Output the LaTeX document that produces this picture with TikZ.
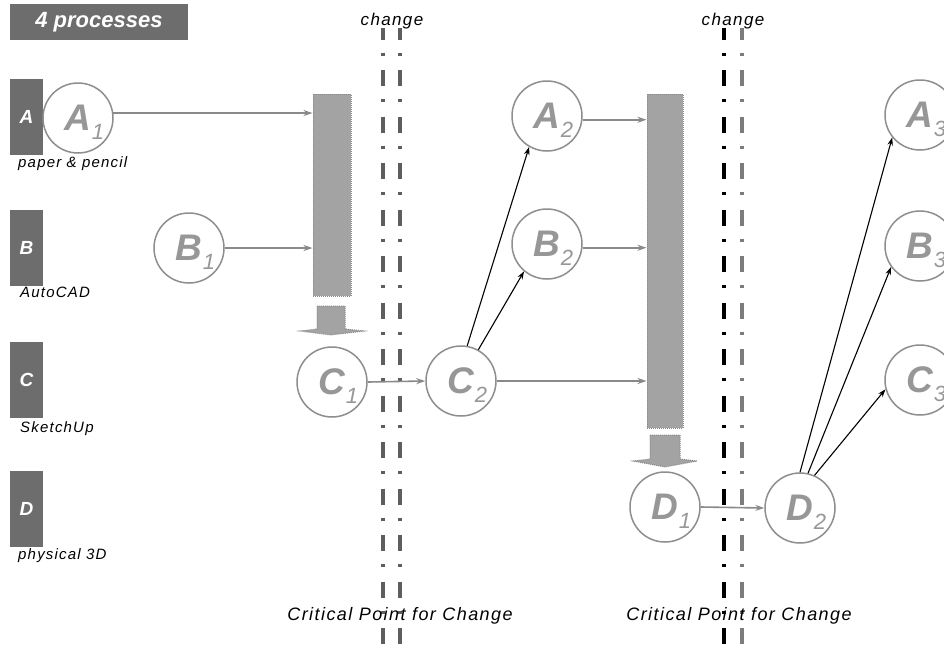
\documentclass[tikz,border=0pt]{standalone}
\usepackage{fontspec}
\setmainfont{Liberation Sans}
\usetikzlibrary{arrows.meta,calc}
\definecolor{boxgray}{HTML}{6D6D6D}
\definecolor{bargray}{HTML}{A3A3A3}
\definecolor{baredge}{HTML}{8A8A8A}
\definecolor{circgray}{HTML}{8E8E8E}
\definecolor{lettergray}{HTML}{979797}
\definecolor{arrowgray}{HTML}{8A8A8A}
\definecolor{linegray}{HTML}{5E5E5E}
\definecolor{linegrayb}{HTML}{7C7C7C}
\newcommand{\fsz}[1]{\fontsize{#1}{#1}\selectfont}
\newcommand{\sbs}[1]{\rlap{\smash{\raisebox{-9pt}{\fsz{22}\mdseries\itshape\hspace{0.5pt}#1}}}}
\begin{document}
\begin{tikzpicture}[x=1pt,y=-1pt,
  circ/.style={circle, draw=circgray, line width=1.5pt, minimum size=70pt, inner sep=0pt,
    text=lettergray, font=\fsz{37}\bfseries\itshape},
  lbox/.style={fill=boxgray, minimum width=33pt, minimum height=76pt, inner sep=0pt,
    text=white, font=\fsz{19}\bfseries\itshape},
  barbox/.style={fill=bargray, draw=baredge, densely dotted, line width=1pt, inner sep=0pt},
  blockarrow/.style={fill=bargray, draw=baredge, densely dotted, line width=1pt},
  garrow/.style={draw=arrowgray, line width=1.6pt, -{Stealth[length=9pt,width=6pt]}},
  barrow/.style={draw=black, line width=1.1pt, -{Stealth[length=8pt,width=5.5pt]}},
  cline/.style={line width=4pt, dash pattern=on 16pt off 13pt on 3pt off 14.5pt, dash phase=4.5pt},
  sublabel/.style={anchor=base west, inner sep=0pt, font=\fsz{15}\itshape\addfontfeature{LetterSpace=8}},
  chg/.style={anchor=base, inner sep=0pt, font=\fsz{17}\itshape\addfontfeature{LetterSpace=8}},
  crit/.style={anchor=base, inner sep=0pt, font=\fsz{18}\itshape\addfontfeature{LetterSpace=8}}
]
\useasboundingbox (0,0) rectangle (944,648);
\fill[white] (0,0) rectangle (944,648);

% title
\node[fill=boxgray, minimum width=178pt, minimum height=36pt, inner sep=0pt, text=white,
  font=\fsz{22}\bfseries\itshape] (title) at (99,22) {4 processes};

% left boxes
\node[lbox] (LA) at (26.5,117) {A};
\node[lbox] (LB) at (26.5,247.5) {B};
\node[lbox] (LC) at (26.5,380) {C};
\node[lbox] (LD) at (26.5,508.5) {D};
\node[sublabel] (tA) at (18,167) {paper \& pencil};
\node[sublabel] (tB) at (20,297) {AutoCAD};
\node[sublabel] (tC) at (20,432) {SketchUp};
\node[sublabel] (tD) at (18,559) {physical 3D};

% change lines
\draw[cline, draw=linegray] (383,28) -- (383,648);
\draw[cline, draw=linegray] (400,28) -- (400,648);
\draw[cline, draw=black] (724,28) -- (724,648);
\draw[cline, draw=linegrayb] (742,28) -- (742,648);
\node[chg] (ch1) at (392,25) {change};
\node[chg] (ch2) at (733,25) {change};
\node[crit] (cp1) at (400,620) {Critical Point for Change};
\node[crit] (cp2) at (739,620) {Critical Point for Change};

% bars
\node[barbox, minimum width=38pt, minimum height=202pt] (bar1) at (332,195) {};
\node[barbox, minimum width=36pt, minimum height=334pt] (bar2) at (665,261) {};
\draw[blockarrow] (317,306) -- (345,306) -- (345,329) -- (364,331) -- (331,335) -- (300,331) -- (317,329) -- cycle;
\draw[blockarrow] (650,435) -- (680,435) -- (680,459) -- (697,461) -- (665,467) -- (633,461) -- (650,459) -- cycle;

% circles
\node[circ] (A1) at (78,118) {A\sbs{1}};
\node[circ] (B1) at (189,248) {B\sbs{1}};
\node[circ] (C1) at (332,382) {C\sbs{1}};
\node[circ] (C2) at (461,381) {C\sbs{2}};
\node[circ] (A2) at (547,116) {A\sbs{2}};
\node[circ] (B2) at (547,244) {B\sbs{2}};
\node[circ] (D1) at (665,507) {D\sbs{1}};
\node[circ] (D2) at (800,508) {D\sbs{2}};
\node[circ] (A3) at (920,115) {A\sbs{3}};
\node[circ] (B3) at (920,246) {B\sbs{3}};
\node[circ] (C3) at (920,380) {C\sbs{3}};

% gray connectors
\draw[garrow] (A1.8) -- (A1.8 -| bar1.west);
\draw[garrow] (B1.east) -- (B1.east -| bar1.west);
\draw[garrow] (A2.-6) -- (A2.-6 -| bar2.west);
\draw[garrow] (B2.-6) -- (B2.-6 -| bar2.west);
\draw[garrow] (C2.east) -- (C2.east -| bar2.west);
\draw[garrow] (C1.east) -- (C2.west);
\draw[garrow] (D1.east) -- (D2.west);

% black connectors
\draw[barrow] (C2.80) -- (A2.240);
\draw[barrow] (C2.61) -- (B2.230);
\draw[barrow] (D2.90) -- (A3.219);
\draw[barrow] (D2.77) -- (B3.216);
\draw[barrow] (D2.66) -- (C3.195);
\end{tikzpicture}
\end{document}
